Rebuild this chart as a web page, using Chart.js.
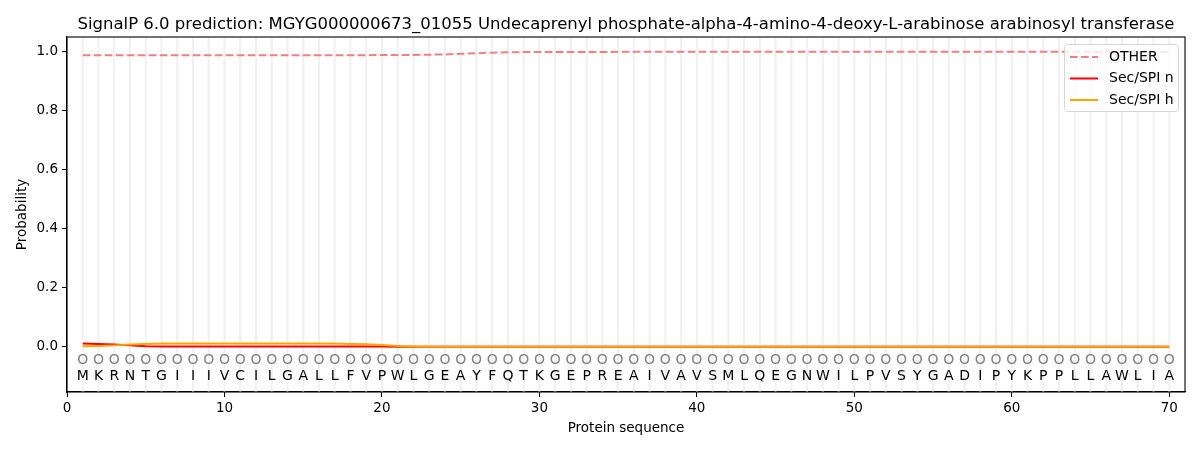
<!DOCTYPE html>
<html>
<head>
<meta charset="utf-8">
<script src="https://cdn.jsdelivr.net/npm/chart.js@4.4.1/dist/chart.umd.min.js"></script>
<style>
  html, body { margin: 0; padding: 0; background: #fff; }
  #wrap { width: 1200px; height: 450px; }
</style>
</head>
<body>
<div id="wrap"><canvas id="signalChart" width="1200" height="450"></canvas></div>
<script>
const TITLE = 'SignalP 6.0 prediction: MGYG000000673_01055 Undecaprenyl phosphate-alpha-4-amino-4-deoxy-L-arabinose arabinosyl transferase';

const residues = 'MKRNTGIIIVCILGALLFVPWLGEAYFQTKGEPREAIVAVSMLQEGNWILPVSYGADIPYKPPLLAWLIA'.split('');
const positions = residues.map((r, i) => i + 1);

const otherProb = [
    0.988, 0.988, 0.988, 0.988, 0.988, 0.988, 0.988, 0.988, 0.988, 0.988,
    0.988, 0.988, 0.988, 0.988, 0.988, 0.988, 0.988, 0.988, 0.988, 0.989,
    0.989, 0.989, 0.990, 0.991, 0.993, 0.995, 0.997, 0.998, 0.999, 0.999,
    0.999, 0.999, 0.999, 0.999, 1.0, 1.0, 1.0, 1.0, 1.0, 1.0,
    1.0, 1.0, 1.0, 1.0, 1.0, 1.0, 1.0, 1.0, 1.0, 1.0,
    1.0, 1.0, 1.0, 1.0, 1.0, 1.0, 1.0, 1.0, 1.0, 1.0,
    1.0, 1.0, 1.0, 1.0, 1.0, 1.0, 1.0, 1.0, 1.0, 1.0
];
const secSpiN = [
    0.011, 0.010, 0.008, 0.005, 0.002, 0.001, 0.001, 0.001, 0.001, 0.001,
    0.001, 0.001, 0.001, 0.001, 0.001, 0.001, 0.001, 0.001, 0.001, 0.001,
    0.0, 0.0, 0.0, 0.0, 0.0, 0.0, 0.0, 0.0, 0.0, 0.0,
    0.0, 0.0, 0.0, 0.0, 0.0, 0.0, 0.0, 0.0, 0.0, 0.0,
    0.0, 0.0, 0.0, 0.0, 0.0, 0.0, 0.0, 0.0, 0.0, 0.0,
    0.0, 0.0, 0.0, 0.0, 0.0, 0.0, 0.0, 0.0, 0.0, 0.0,
    0.0, 0.0, 0.0, 0.0, 0.0, 0.0, 0.0, 0.0, 0.0, 0.0
];
const secSpiH = [
    0.002, 0.003, 0.005, 0.008, 0.010, 0.011, 0.011, 0.011, 0.011, 0.011,
    0.011, 0.011, 0.011, 0.011, 0.011, 0.011, 0.011, 0.010, 0.009, 0.006,
    0.003, 0.001, 0.0, 0.0, 0.0, 0.0, 0.0, 0.0, 0.0, 0.0,
    0.0, 0.0, 0.0, 0.0, 0.0, 0.0, 0.0, 0.0, 0.0, 0.0,
    0.0, 0.0, 0.0, 0.0, 0.0, 0.0, 0.0, 0.0, 0.0, 0.0,
    0.0, 0.0, 0.0, 0.0, 0.0, 0.0, 0.0, 0.0, 0.0, 0.0,
    0.0, 0.0, 0.0, 0.0, 0.0, 0.0, 0.0, 0.0, 0.0, 0.0
];

const xTicks = [0, 10, 20, 30, 40, 50, 60, 70];
const yTicks = [0.0, 0.2, 0.4, 0.6, 0.8, 1.0];

const FONT = 'DejaVu Sans';

const COLORS = {
    other: '#f08080',
    n: '#ff0000',
    h: '#ffa500',
    grid: '#f0f0f0',
    marker: '#808080'
};

function toPoints(values) {
    return values.map((v, i) => ({ x: positions[i], y: v }));
}

// vertical residue lines, box, residue letters, title, legend
const decorations = {
    id: 'decorations',
    beforeDatasetsDraw(chart) {
        const ctx = chart.ctx;
        const area = chart.chartArea;
        const xs = chart.scales.x;
        ctx.save();
        ctx.strokeStyle = COLORS.grid;
        ctx.lineWidth = 2;
        positions.forEach(p => {
            const px = xs.getPixelForValue(p);
            ctx.beginPath();
            ctx.moveTo(px, area.top);
            ctx.lineTo(px, area.bottom);
            ctx.stroke();
        });
        ctx.restore();
    },
    afterDraw(chart) {
        const ctx = chart.ctx;
        const area = chart.chartArea;
        const xs = chart.scales.x;
        const ys = chart.scales.y;
        ctx.save();

        // residue markers and letters
        ctx.textAlign = 'center';
        ctx.textBaseline = 'middle';
        ctx.font = '14px "' + FONT + '"';
        residues.forEach((r, i) => {
            const px = xs.getPixelForValue(positions[i]);
            ctx.fillStyle = COLORS.marker;
            ctx.fillText('O', px, ys.getPixelForValue(-0.047));
            ctx.fillStyle = '#000';
            ctx.fillText(r, px, ys.getPixelForValue(-0.1));
        });

        // box
        ctx.strokeStyle = '#000';
        ctx.lineWidth = 1.1;
        ctx.strokeRect(area.left, area.top, area.right - area.left, area.bottom - area.top);

        // title
        ctx.fillStyle = '#000';
        ctx.font = '16.5px "' + FONT + '"';
        ctx.textBaseline = 'alphabetic';
        ctx.fillText(TITLE, (area.left + area.right) / 2, area.top - 8);

        // legend
        const lx = area.right - 121, ly = area.top + 7, lw = 114, lh = 67;
        ctx.fillStyle = 'rgba(255,255,255,0.8)';
        ctx.strokeStyle = '#d6d6d6';
        ctx.lineWidth = 1;
        ctx.beginPath();
        ctx.roundRect(lx + 0.5, ly + 0.5, lw, lh, 3);
        ctx.fill();
        ctx.stroke();
        ctx.font = '14px "' + FONT + '"';
        ctx.textAlign = 'left';
        ctx.textBaseline = 'middle';
        chart.data.datasets.forEach((ds, i) => {
            const yy = ly + 13 + i * 21.5;
            ctx.strokeStyle = ds.borderColor;
            ctx.lineWidth = 2;
            ctx.setLineDash(ds.borderDash || []);
            ctx.beginPath();
            ctx.moveTo(lx + 6, yy);
            ctx.lineTo(lx + 34, yy);
            ctx.stroke();
            ctx.setLineDash([]);
            ctx.fillStyle = '#000';
            ctx.fillText(ds.label, lx + 45, yy);
        });
        ctx.restore();
    }
};

new Chart(document.getElementById('signalChart'), {
    type: 'line',
    data: {
        datasets: [
            {
                label: 'OTHER',
                data: toPoints(otherProb),
                borderColor: COLORS.other,
                borderWidth: 2,
                borderDash: [7.7, 3.3],
                order: 3
            },
            {
                label: 'Sec/SPI n',
                data: toPoints(secSpiN),
                borderColor: COLORS.n,
                borderWidth: 2,
                order: 2
            },
            {
                label: 'Sec/SPI h',
                data: toPoints(secSpiH),
                borderColor: COLORS.h,
                borderWidth: 2,
                order: 1
            }
        ]
    },
    options: {
        responsive: false,
        animation: false,
        devicePixelRatio: 1,
        elements: {
            point: { radius: 0 },
            line: { tension: 0, fill: false }
        },
        layout: { padding: { top: 37, right: 15, left: 0, bottom: 0 } },
        plugins: {
            legend: { display: false },
            title: { display: false },
            tooltip: { enabled: false }
        },
        scales: {
            x: {
                type: 'linear',
                min: 0,
                max: 71,
                afterBuildTicks(scale) { scale.ticks = xTicks.map(v => ({ value: v })); },
                afterFit(scale) { scale.height = 58; },
                ticks: {
                    color: '#000',
                    font: { family: FONT, size: 13.5 },
                    padding: 3,
                    maxRotation: 0,
                    callback: v => String(v)
                },
                grid: { drawOnChartArea: false, drawTicks: true, tickLength: 5, color: '#000' },
                border: { color: '#000', width: 1.1 },
                title: {
                    display: true,
                    text: 'Protein sequence',
                    color: '#000',
                    font: { family: FONT, size: 13.5 },
                    padding: { top: 2, bottom: 13 }
                }
            },
            y: {
                type: 'linear',
                min: -0.153,
                max: 1.05,
                afterBuildTicks(scale) { scale.ticks = yTicks.map(v => ({ value: v })); },
                afterFit(scale) { scale.width = 67; },
                ticks: {
                    color: '#000',
                    font: { family: FONT, size: 13.5 },
                    padding: 4,
                    callback: v => v.toFixed(1)
                },
                grid: { drawOnChartArea: false, drawTicks: true, tickLength: 5, color: '#000' },
                border: { color: '#000', width: 1.1 },
                title: {
                    display: true,
                    text: 'Probability',
                    color: '#000',
                    font: { family: FONT, size: 13.5 },
                    padding: { top: 14, bottom: 2 }
                }
            }
        }
    },
    plugins: [decorations]
});
</script>
</body>
</html>
